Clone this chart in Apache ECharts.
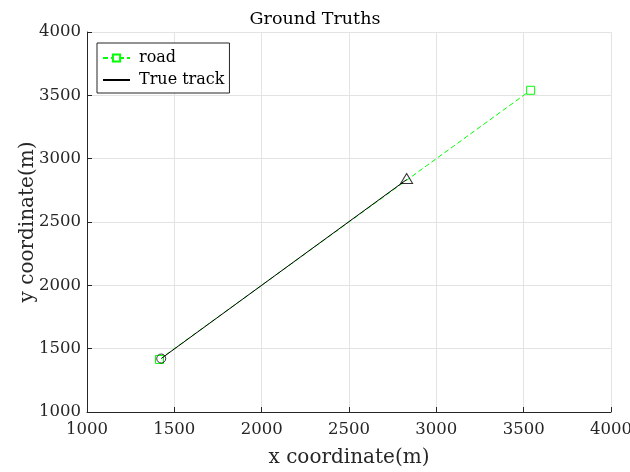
<!DOCTYPE html>
<html>
<head>
<meta charset="utf-8">
<script src="https://cdn.jsdelivr.net/npm/echarts@6/dist/echarts.min.js"></script>
<style>
  html, body { margin: 0; padding: 0; background: #fff; }
  #chart { width: 630px; height: 472px; }
</style>
</head>
<body>
<div id="chart"></div>
<script>
// Road segment end points (x, y) in metres
const roadX = [1415, 3540];
const roadY = [1415, 3540];
// Ground-truth track end points (x, y) in metres
const trackX = [1425, 2830];
const trackY = [1422, 2835];
// Axis ticks
const xTicks = [1000, 1500, 2000, 2500, 3000, 3500, 4000];
const yTicks = [1000, 1500, 2000, 2500, 3000, 3500, 4000];

const FONT = 'DejaVu Serif';
const pairs = (xs, ys) => xs.map((x, i) => [x, ys[i]]);
const road = pairs(roadX, roadY);
const track = pairs(trackX, trackY);

const chart = echarts.init(document.getElementById('chart'), null, { renderer: 'canvas' });

const axisCommon = (ticks, name, gap, rotate, labelMargin) => ({
  type: 'value',
  min: ticks[0],
  max: ticks[ticks.length - 1],
  interval: ticks[1] - ticks[0],
  name: name,
  nameLocation: 'middle',
  nameGap: gap,
  nameRotate: rotate,
  nameMoveOverlap: false,
  nameTextStyle: { fontFamily: FONT, fontSize: 20, color: '#262626' },
  axisLine: { show: true, onZero: false, lineStyle: { color: '#262626', width: 1 } },
  axisTick: { show: true, inside: true, length: 5, lineStyle: { color: '#262626', width: 1 } },
  axisLabel: {
    fontFamily: FONT, fontSize: 16.5, color: '#262626', margin: labelMargin,
    formatter: v => String(v)
  },
  splitLine: { show: true, lineStyle: { color: '#e3e3e3', width: 1 } }
});

chart.setOption({
  animation: false,
  backgroundColor: '#ffffff',
  title: {
    text: 'Ground Truths',
    left: 'center',
    top: 5,
    textStyle: { fontFamily: FONT, fontSize: 17.5, fontWeight: 'normal', color: '#000' }
  },
  grid: {
    left: 87, right: 19, top: 32, bottom: 60,
    show: false,
    containLabel: false,
    outerBoundsMode: 'none'
  },
  legend: {
    left: 97, top: 43,
    orient: 'vertical',
    itemGap: 6,
    itemWidth: 27,
    itemHeight: 9,
    padding: [7, 5, 5, 5],
    borderColor: '#262626',
    borderWidth: 1,
    backgroundColor: '#fff',
    textStyle: { fontFamily: FONT, fontSize: 16, color: '#000', padding: [0, 0, 0, 4] },
    data: [
      { name: 'road' },
      { name: 'True track', itemStyle: { opacity: 0 } }
    ]
  },
  xAxis: axisCommon(xTicks, 'x coordinate(m)', 36, 0, 9),
  yAxis: axisCommon(yTicks, 'y coordinate(m)', 49, 90, 6),
  series: [
    {
      name: 'road',
      type: 'line',
      data: road,
      symbol: 'rect',
      symbolSize: 8,
      showAllSymbol: true,
      itemStyle: { color: '#fff', borderColor: '#00ff00', borderWidth: 1 },
      lineStyle: { color: '#00ff00', width: 1, type: [5, 3] },
      color: '#00ff00',
      z: 2
    },
    {
      name: 'True track',
      type: 'line',
      data: track,
      symbol: 'none',
      lineStyle: { color: '#000', width: 1 },
      color: '#000',
      z: 3
    },
    {
      name: 'start',
      type: 'scatter',
      data: [track[0]],
      symbol: 'circle',
      symbolSize: 9,
      itemStyle: { color: 'rgba(0,0,0,0)', borderColor: '#000', borderWidth: 1 },
      z: 4
    },
    {
      name: 'end',
      type: 'scatter',
      data: [track[track.length - 1]],
      symbol: 'triangle',
      symbolSize: [12, 10],
      symbolOffset: [0, -1],
      itemStyle: { color: 'rgba(0,0,0,0)', borderColor: '#000', borderWidth: 1 },
      z: 4
    }
  ]
});
</script>
</body>
</html>
